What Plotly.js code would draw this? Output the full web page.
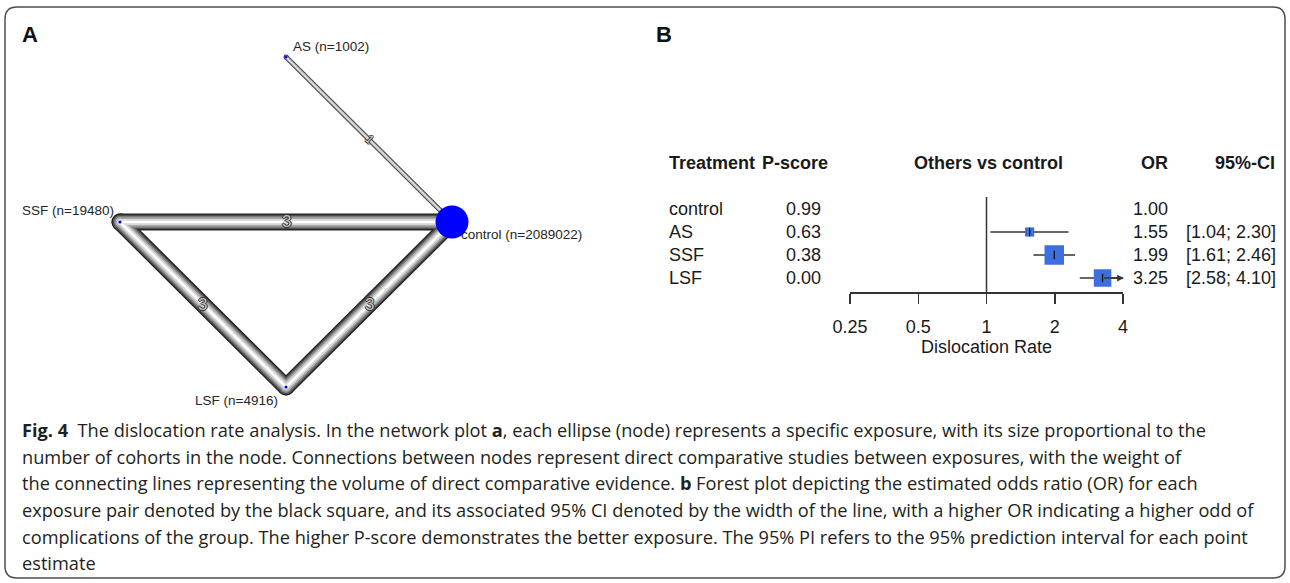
<!DOCTYPE html>
<html>
<head>
<meta charset="utf-8">
<script src="https://cdn.plot.ly/plotly-3.0.1.min.js"></script>
<style>html,body{margin:0;padding:0;background:#fff;}#chart{width:1290px;height:583px;}</style>
</head>
<body>
<div id="chart"></div>
<script>
// ---------- Data: network plot (panel A) ----------
const nodeNames = ['AS', 'control', 'SSF', 'LSF'];
const nodeN = [1002, 2089022, 19480, 4916];
const nodeX = [0, 1, -1, 0];      // network layout coordinates
const nodeY = [1, 0, 0, -1];
const edgeFrom = ['AS', 'SSF', 'SSF', 'LSF'];
const edgeTo = ['control', 'control', 'LSF', 'control'];
const edgeStudies = [1, 3, 3, 3];

// ---------- Data: forest plot (panel B) ----------
const treatments = ['control', 'AS', 'SSF', 'LSF'];
const pScores = [0.99, 0.63, 0.38, 0.00];
const orValues = [1.00, 1.55, 1.99, 3.25];
const ciLower = [null, 1.04, 1.61, 2.58];
const ciUpper = [null, 2.30, 2.46, 4.10];
const axisTicks = [0.25, 0.5, 1, 2, 4];
const axisTickText = ['0.25', '0.5', '1', '2', '4'];
const columnHeaders = ['Treatment', 'P-score', 'Others vs control', 'OR', '95%-CI'];
const nullValue = 1;

const captionLines = [
  '<b>Fig. 4</b>  The dislocation rate analysis. In the network plot <b>a</b>, each ellipse (node) represents a specific exposure, with its size proportional to the',
  'number of cohorts in the node. Connections between nodes represent direct comparative studies between exposures, with the weight of',
  'the connecting lines representing the volume of direct comparative evidence. <b>b</b> Forest plot depicting the estimated odds ratio (OR) for each',
  'exposure pair denoted by the black square, and its associated 95% CI denoted by the width of the line, with a higher OR indicating a higher odd of',
  'complications of the group. The higher P-score demonstrates the better exposure. The 95% PI refers to the 95% prediction interval for each point',
  'estimate'
];

// ---------- helpers ----------
const W = 1290, H = 583;
const PX = p => p / W;
const PY = p => 1 - p / H;
const sans = 'Liberation Sans, Arial, sans-serif';

const traces = [];
const annotations = [];

// ---------- Network edges (tube shading via stacked layers) ----------
const thickLayers = [[17, '#1f1f1f'], [14.5, '#4d4d4d'], [12, '#7d7d7d'], [9, '#ababab'], [6, '#d6d6d6'], [2.5, '#ffffff']];
const thinLayers = [[5, '#454545'], [3, '#c4c4c4'], [1, '#eeeeee']];
const idx = name => nodeNames.indexOf(name);
function edgeLayers(studies) { return studies >= 3 ? thickLayers : thinLayers; }

const groups = [edgeStudies.map((s, i) => i).filter(i => edgeStudies[i] < 3),
                edgeStudies.map((s, i) => i).filter(i => edgeStudies[i] >= 3)];
groups.forEach(g => {
  if (!g.length) return;
  const layers = edgeLayers(edgeStudies[g[0]]);
  layers.forEach(([w, c]) => {
    g.forEach(i => {
      const a = idx(edgeFrom[i]), b = idx(edgeTo[i]);
      traces.push({
        type: 'scatter', mode: 'lines+markers', xaxis: 'x', yaxis: 'y',
        x: [nodeX[a], nodeX[b]], y: [nodeY[a], nodeY[b]],
        line: {color: c, width: w},
        marker: {color: c, size: w, opacity: 1, line: {width: 0}},
        hoverinfo: 'skip', showlegend: false, cliponaxis: false
      });
    });
  });
});

// edge labels (number of studies)
edgeStudies.forEach((s, i) => {
  const a = idx(edgeFrom[i]), b = idx(edgeTo[i]);
  const thick = s >= 3;
  annotations.push({
    xref: 'x', yref: 'y', x: (nodeX[a] + nodeX[b]) / 2, y: (nodeY[a] + nodeY[b]) / 2,
    text: String(s), showarrow: false, textangle: thick ? 0 : 45,
    font: {family: sans, size: thick ? 17 : 12, color: thick ? '#c4c4c4' : '#d0d0d0',
           shadow: '-1px 0 #2e2e2e, 1px 0 #2e2e2e, 0 -1px #2e2e2e, 0 1px #2e2e2e'}
  });
});

// nodes
const nMax = Math.max(...nodeN);
traces.push({
  type: 'scatter', mode: 'markers', xaxis: 'x', yaxis: 'y',
  x: nodeX, y: nodeY,
  marker: {color: '#0000ff', opacity: 1, size: nodeN.map(n => Math.max(3, 33 * Math.sqrt(n / nMax))), line: {width: 0}},
  hoverinfo: 'skip', showlegend: false, cliponaxis: false
});

// node labels
const labelStyle = {
  AS: {xanchor: 'left', xshift: 5, yshift: 10},
  control: {xanchor: 'left', xshift: 7, yshift: -13},
  SSF: {xanchor: 'right', xshift: -4, yshift: 11},
  LSF: {xanchor: 'right', xshift: -6, yshift: -14}
};
nodeNames.forEach((nm, i) => {
  const st = labelStyle[nm];
  annotations.push({
    xref: 'x', yref: 'y', x: nodeX[i], y: nodeY[i], text: nm + ' (n=' + nodeN[i] + ')',
    showarrow: false, xanchor: st.xanchor, yanchor: 'middle', xshift: st.xshift, yshift: st.yshift,
    font: {family: sans, size: 13.5, color: '#262626'}
  });
});

// ---------- Forest plot ----------
const rowTop = 209, rowStep = 23, axisPx = 292, refTopPx = 197;
const y2Range = [3 + (axisPx - (rowTop + 3 * rowStep)) / rowStep, -(rowTop - refTopPx) / rowStep];
const rows = treatments.map((t, i) => i);

// null line
traces.push({
  type: 'scatter', mode: 'lines', xaxis: 'x2', yaxis: 'y2',
  x: [nullValue, nullValue], y: [y2Range[1], y2Range[0]],
  line: {color: '#333333', width: 1.5}, hoverinfo: 'skip', showlegend: false, cliponaxis: false
});

// CI lines
const xMaxAxis = axisTicks[axisTicks.length - 1];
rows.forEach(i => {
  if (ciLower[i] == null) return;
  const hi = Math.min(ciUpper[i], xMaxAxis);
  traces.push({
    type: 'scatter', mode: 'lines', xaxis: 'x2', yaxis: 'y2',
    x: [ciLower[i], hi], y: [i, i],
    line: {color: '#333333', width: 1.5}, hoverinfo: 'skip', showlegend: false, cliponaxis: false
  });
  if (ciUpper[i] > xMaxAxis) {
    annotations.push({
      xref: 'x2', yref: 'y2', axref: 'x2', ayref: 'y2',
      x: Math.log10(xMaxAxis) + 0.004, y: i, ax: Math.log10(orValues[i]), ay: i,
      text: '', showarrow: true, arrowhead: 2, arrowsize: 0.9, arrowwidth: 1.5, arrowcolor: '#333333'
    });
  }
});

// squares (size by inverse variance weight)
const wts = rows.map(i => ciLower[i] == null ? 0 : 1 / Math.pow((Math.log(ciUpper[i]) - Math.log(ciLower[i])) / 3.92, 2));
const wMax = Math.max(...wts);
const sqIdx = rows.filter(i => ciLower[i] != null);
traces.push({
  type: 'scatter', mode: 'markers', xaxis: 'x2', yaxis: 'y2',
  x: sqIdx.map(i => orValues[i]), y: sqIdx,
  marker: {symbol: 'square', color: '#3e6fe0', opacity: 1, size: sqIdx.map(i => 19.5 * Math.pow(wts[i] / wMax, 0.6)), line: {width: 0}},
  hoverinfo: 'skip', showlegend: false, cliponaxis: false
});
traces.push({
  type: 'scatter', mode: 'markers', xaxis: 'x2', yaxis: 'y2',
  x: sqIdx.map(i => orValues[i]), y: sqIdx,
  marker: {symbol: 'line-ns', size: 6, opacity: 1, line: {width: 1.3, color: '#111'}},
  hoverinfo: 'skip', showlegend: false, cliponaxis: false
});

// table text
const ff = {family: sans, size: 18, color: '#1a1a1a'};
const headerPx = 163;
const headerPos = [{x: 667, a: 'left'}, {x: 830, a: 'right'}, {x: 988, a: 'center'}, {x: 1170, a: 'right'}, {x: 1277, a: 'right'}];
columnHeaders.forEach((h, k) => annotations.push({
  xref: 'paper', yref: 'paper', x: PX(headerPos[k].x), y: PY(headerPx), text: '<b>' + h + '</b>',
  showarrow: false, xanchor: headerPos[k].a, yanchor: 'middle', font: ff
}));
rows.forEach(i => {
  annotations.push({xref: 'paper', yref: 'y2', x: PX(667), y: i, text: treatments[i], showarrow: false, xanchor: 'left', yanchor: 'middle', font: ff});
  annotations.push({xref: 'paper', yref: 'y2', x: PX(823), y: i, text: pScores[i].toFixed(2), showarrow: false, xanchor: 'right', yanchor: 'middle', font: ff});
  annotations.push({xref: 'paper', yref: 'y2', x: PX(1170), y: i, text: orValues[i].toFixed(2), showarrow: false, xanchor: 'right', yanchor: 'middle', font: ff});
  if (ciLower[i] != null) {
    annotations.push({xref: 'paper', yref: 'y2', x: PX(1278), y: i, text: '[' + ciLower[i].toFixed(2) + '; ' + ciUpper[i].toFixed(2) + ']', showarrow: false, xanchor: 'right', yanchor: 'middle', font: ff});
  }
});

// panel letters
annotations.push({xref: 'paper', yref: 'paper', x: PX(20), y: PY(34), text: '<b>A</b>', showarrow: false, xanchor: 'left', yanchor: 'middle', font: {family: sans, size: 22, color: '#111'}});
annotations.push({xref: 'paper', yref: 'paper', x: PX(654), y: PY(34), text: '<b>B</b>', showarrow: false, xanchor: 'left', yanchor: 'middle', font: {family: sans, size: 22, color: '#111'}});

// caption
const capY = [430, 457, 483, 510, 537, 563];
captionLines.forEach((t, k) => annotations.push({
  xref: 'paper', yref: 'paper', x: PX(20), y: PY(capY[k]), text: t, showarrow: false,
  xanchor: 'left', yanchor: 'middle', font: {family: 'Open Sans, Noto Sans, sans-serif', size: 18.2, color: '#231f20'}
}));

// border
const r = 12, L = 5, R = 1285, T = 7, B = 578;
const path = `M ${PX(L + r)},${PY(T)} L ${PX(R - r)},${PY(T)} Q ${PX(R)},${PY(T)} ${PX(R)},${PY(T + r)} ` +
  `L ${PX(R)},${PY(B - r)} Q ${PX(R)},${PY(B)} ${PX(R - r)},${PY(B)} L ${PX(L + r)},${PY(B)} ` +
  `Q ${PX(L)},${PY(B)} ${PX(L)},${PY(B - r)} L ${PX(L)},${PY(T + r)} Q ${PX(L)},${PY(T)} ${PX(L + r)},${PY(T)} Z`;

// network axis mapping: 1 unit = 166 px (x), 165 px (y)
const netCx = 286, netCy = 222, ux = 166, uy = 165;
const xr = [-1.6, 1.6], yr = [-1.3, 1.3];

const layout = {
  width: W, height: H,
  margin: {l: 0, r: 0, t: 0, b: 0},
  paper_bgcolor: '#ffffff', plot_bgcolor: 'rgba(0,0,0,0)',
  showlegend: false,
  xaxis: {domain: [PX(netCx + xr[0] * ux), PX(netCx + xr[1] * ux)], range: xr, visible: false, fixedrange: true},
  yaxis: {domain: [PY(netCy - yr[0] * uy), PY(netCy - yr[1] * uy)], range: yr, visible: false, fixedrange: true, anchor: 'x'},
  xaxis2: {
    domain: [PX(850), PX(1123)], type: 'log', range: [Math.log10(axisTicks[0]), Math.log10(xMaxAxis)], anchor: 'y2',
    showgrid: false, zeroline: false, showline: true, linecolor: '#333333', linewidth: 1.5,
    ticks: 'outside', ticklen: 10, tickwidth: 1.5, tickcolor: '#333333',
    tickmode: 'array', tickvals: axisTicks, ticktext: axisTickText, ticklabelstandoff: 8,
    tickfont: {family: sans, size: 18, color: '#1a1a1a'},
    title: {text: 'Dislocation Rate', font: {family: sans, size: 18, color: '#1a1a1a'}, standoff: 4},
    fixedrange: true
  },
  yaxis2: {domain: [PY(axisPx), PY(refTopPx)], range: y2Range, anchor: 'x2', visible: false, fixedrange: true},
  annotations: annotations,
  shapes: [{type: 'path', xref: 'paper', yref: 'paper', path: path, line: {color: '#4d4d4d', width: 1.5}, fillcolor: 'rgba(0,0,0,0)'}]
};

Plotly.newPlot('chart', traces, layout, {displayModeBar: false, staticPlot: true});
</script>
</body>
</html>
